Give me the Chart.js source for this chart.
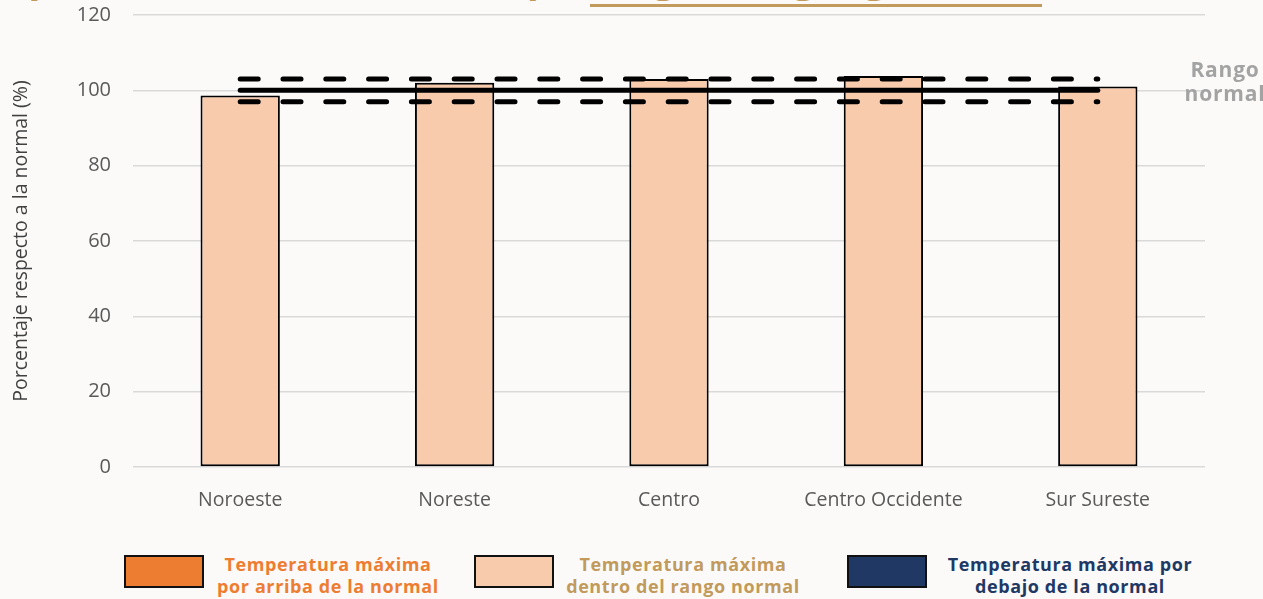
<!DOCTYPE html>
<html>
<head>
<meta charset="utf-8">
<script src="https://cdn.jsdelivr.net/npm/chart.js@4.4.0/dist/chart.umd.min.js"></script>
<style>
  html, body { margin: 0; padding: 0; }
  body { width: 1263px; height: 599px; background: #fcfaf8; position: relative; overflow: hidden; font-family: "Open Sans", sans-serif; }
  #wrap { position: absolute; left: 0; top: -19px; width: 1263px; height: 559px; }
  .ttl { position: absolute; top: -50px; font-weight: 700; font-size: 40px; color: #c19a5c; white-space: nowrap; line-height: 54px; }
  #t1 { right: 885px; }
  #t2 { left: 381px; }
  #t3 { left: 590px; width: 452px; text-align: center; }
  #uline { position: absolute; left: 590px; top: 4px; width: 452px; height: 3px; background: #c19a5c; }
  #rango { position: absolute; left: 1170px; top: 57px; width: 110px; text-align: center; font-weight: 700; font-size: 21px; letter-spacing: 0.8px; line-height: 24px; color: #a3a3a3; }
  .leg { position: absolute; top: 555px; display: flex; align-items: center; }
  .box { width: 76px; height: 29px; border: 2px solid #111; }
  .txt { position: absolute; top: -2px; width: 300px; font-weight: 700; font-size: 18px; letter-spacing: 0.6px; line-height: 22px; text-align: center; }
</style>
</head>
<body>
<div class="ttl" id="t1">Temperatura máxima</div>
<div class="ttl" id="t2">(TMax) por</div>
<div class="ttl" id="t3">regiones geográficas</div>
<div id="uline"></div>
<div id="wrap"><canvas id="chart" width="1263" height="559"></canvas></div>
<div id="rango">Rango normal</div>
<div class="leg" style="left:124px"><div class="box" style="background:#ed7d31"></div><div class="txt" style="color:#ed7d31;left:54px">Temperatura máxima<br>por arriba de la normal</div></div>
<div class="leg" style="left:474px"><div class="box" style="background:#f8cbad"></div><div class="txt" style="color:#c19a5c;left:59px">Temperatura máxima<br>dentro del rango normal</div></div>
<div class="leg" style="left:847px"><div class="box" style="background:#203864"></div><div class="txt" style="color:#203864;left:73px">Temperatura máxima por<br>debajo de la normal</div></div>
<script>
const regiones = ["Noroeste", "Noreste", "Centro", "Centro Occidente", "Sur Sureste"];
const porcentaje = [98.6, 102.0, 103.0, 103.8, 101.0];
const normal = [100, 100, 100, 100, 100];
const limiteSup = [103, 103, 103, 103, 103];
const limiteInf = [97, 97, 97, 97, 97];
const yTicks = [0, 20, 40, 60, 80, 100, 120];

const ctx = document.getElementById("chart").getContext("2d");
new Chart(ctx, {
  type: "bar",
  data: {
    labels: regiones,
    datasets: [
      {
        type: "line",
        data: normal,
        borderColor: "#000",
        borderWidth: 5,
        borderCapStyle: "round",
        pointRadius: 0,
        order: 0
      },
      {
        type: "line",
        data: limiteSup,
        borderColor: "#000",
        borderWidth: 5,
        borderDash: [18, 24.8],
        borderCapStyle: "round",
        pointRadius: 0,
        order: 0
      },
      {
        type: "line",
        data: limiteInf,
        borderColor: "#000",
        borderWidth: 5,
        borderDash: [18, 24.8],
        borderCapStyle: "round",
        pointRadius: 0,
        order: 0
      },
      {
        data: porcentaje,
        backgroundColor: "#f8cbad",
        borderColor: "#000",
        borderWidth: 2,
        borderSkipped: false,
        barPercentage: 0.37,
        categoryPercentage: 1,
        order: 2
      }
    ]
  },
  options: {
    responsive: false,
    animation: false,
    layout: { padding: { left: 10, right: 58, top: 0, bottom: 0 } },
    plugins: { legend: { display: false }, tooltip: { enabled: false } },
    scales: {
      y: {
        min: 0,
        max: 120,
        afterBuildTicks: s => { s.ticks = yTicks.map(v => ({ value: v })); },
        afterFit: s => { s.width = 123; },
        grid: { color: "#d9d9d9", lineWidth: 1.5, drawTicks: false },
        border: { display: false },
        ticks: { color: "#595959", font: { family: "Open Sans", size: 20 }, padding: 22 },
        title: {
          display: true,
          text: "Porcentaje respecto a la normal (%)",
          color: "#404040",
          font: { family: "Open Sans", size: 19.5 },
          padding: { top: 0, bottom: 0 }
        }
      },
      x: {
        afterFit: s => { s.height = 73; },
        grid: { display: false },
        border: { display: false },
        ticks: { color: "#595959", font: { family: "Open Sans", size: 19.5 }, padding: 14 }
      }
    }
  }
});
</script>
</body>
</html>
